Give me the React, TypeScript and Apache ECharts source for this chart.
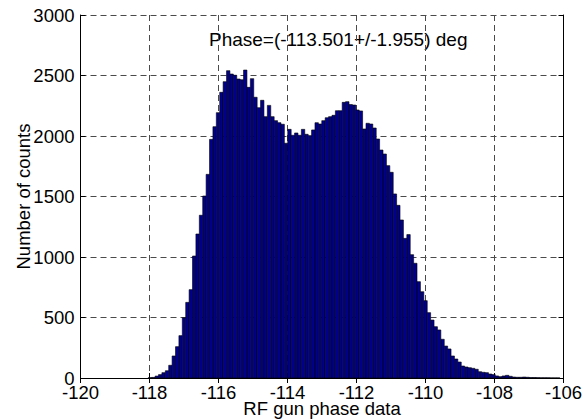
import React, { useEffect, useRef } from "react";
import * as echarts from "echarts";

// Histogram bins (degrees)
const binStart = -118.035;
const binWidth = 0.0986;

// Counts per bin (left to right)
const counts = [
  3, 5, 16, 28, 44, 60, 105, 182, 259, 350,
  498, 625, 730, 1008, 1190, 1345, 1504, 1683, 1972, 2077,
  2193, 2361, 2449, 2540, 2512, 2502, 2471, 2465, 2545, 2402,
  2474, 2320, 2234, 2295, 2160, 2253, 2160, 2127, 2110, 2097,
  1940, 2055, 2006, 2025, 2006, 2055, 2014, 2003, 2050, 2110,
  2099, 2127, 2151, 2160, 2171, 2209, 2209, 2278, 2284, 2260,
  2256, 2215, 2207, 2058, 2105, 2099, 2066, 1975, 1884, 1851,
  1755, 1700, 1521, 1427, 1306, 1154, 1185, 1019, 948, 796,
  713, 639, 540, 479, 424, 397, 320, 264, 240, 182,
  157, 132, 99, 91, 85, 80, 72, 52, 47, 44,
  33, 28, 17, 11, 17, 22, 14, 8, 6, 6,
  8, 6, 4, 4, 3, 2, 2, 2, 1, 1, 1,
];

const xMin = -120;
const xMax = -106;
const xStep = 2;
const yMin = 0;
const yMax = 3000;
const yStep = 500;

const xName = "RF gun phase data";
const yName = "Number of counts";
const annotation = "Phase=(-113.501+/-1.955) deg";

const FONT = "'Liberation Sans', Arial, Helvetica, sans-serif";
const FS = 18.5;
const LH = 15;

export default function App() {
  const ref = useRef<HTMLDivElement>(null);

  useEffect(() => {
    if (!ref.current) return;
    const chart = echarts.init(ref.current, null, { renderer: "svg" });
    const data = counts.map((c, i) => [
      binStart + i * binWidth,
      binStart + (i + 1) * binWidth,
      c,
    ]);

    const gridDash = {
      show: true,
      lineStyle: { color: "#4a4a4a", width: 1, type: [6, 4] },
    };
    const blackLine = { show: true, lineStyle: { color: "#000", width: 1 } };
    const inTick = { show: true, inside: true, length: 5, lineStyle: { color: "#000", width: 1 } };

    chart.setOption({
      animation: false,
      backgroundColor: "#fff",
      grid: {
        left: 80.5,
        right: 21.5,
        top: 15,
        bottom: 42,
        containLabel: false,
        outerBoundsMode: "none",
      },
      xAxis: [
        {
          type: "value",
          min: xMin,
          max: xMax,
          interval: xStep,
          position: "bottom",
          axisLine: blackLine,
          axisTick: inTick,
          axisLabel: {
            color: "#000",
            fontSize: FS,
            lineHeight: LH,
            fontFamily: FONT,
            margin: 7,
            formatter: (v: number) => String(v),
          },
          splitLine: gridDash,
          name: xName,
          nameLocation: "middle",
          nameGap: 23,
          nameMoveOverlap: false,
          nameTextStyle: { color: "#000", fontSize: FS, lineHeight: LH, fontFamily: FONT },
        },
        {
          type: "value",
          min: xMin,
          max: xMax,
          interval: xStep,
          position: "top",
          axisLine: blackLine,
          axisTick: inTick,
          axisLabel: { show: false },
          splitLine: { show: false },
        },
      ],
      yAxis: [
        {
          type: "value",
          min: yMin,
          max: yMax,
          interval: yStep,
          position: "left",
          axisLine: blackLine,
          axisTick: inTick,
          axisLabel: {
            color: "#000",
            fontSize: FS,
            lineHeight: LH,
            fontFamily: FONT,
            margin: 6,
            formatter: (v: number) => String(v),
          },
          splitLine: gridDash,
          name: yName,
          nameLocation: "middle",
          nameGap: 50,
          nameRotate: 90,
          nameMoveOverlap: false,
          nameTextStyle: { color: "#000", fontSize: FS, lineHeight: LH, fontFamily: FONT },
        },
        {
          type: "value",
          min: yMin,
          max: yMax,
          interval: yStep,
          position: "right",
          axisLine: blackLine,
          axisTick: inTick,
          axisLabel: { show: false },
          splitLine: { show: false },
        },
      ],
      graphic: [
        {
          type: "text",
          left: 209,
          top: 30,
          style: {
            text: annotation,
            fill: "#000",
            fontSize: 19,
            fontFamily: FONT,
          },
        },
      ],
      series: [
        {
          type: "custom",
          xAxisIndex: 0,
          yAxisIndex: 0,
          encode: { x: [0, 1], y: 2 },
          data,
          renderItem: (params: any, api: any) => {
            const p0 = api.coord([api.value(0), api.value(2)]);
            const p1 = api.coord([api.value(1), 0]);
            return {
              type: "rect",
              shape: { x: p0[0], y: p0[1], width: p1[0] - p0[0], height: p1[1] - p0[1] },
              style: { fill: "#00008c", stroke: "#000", lineWidth: 0.6 },
            };
          },
        },
      ],
    });
    return () => chart.dispose();
  }, []);

  return (
    <div
      ref={ref}
      style={{ position: "fixed", left: 0, top: 0, width: 585, height: 420, background: "#fff" }}
    />
  );
}
